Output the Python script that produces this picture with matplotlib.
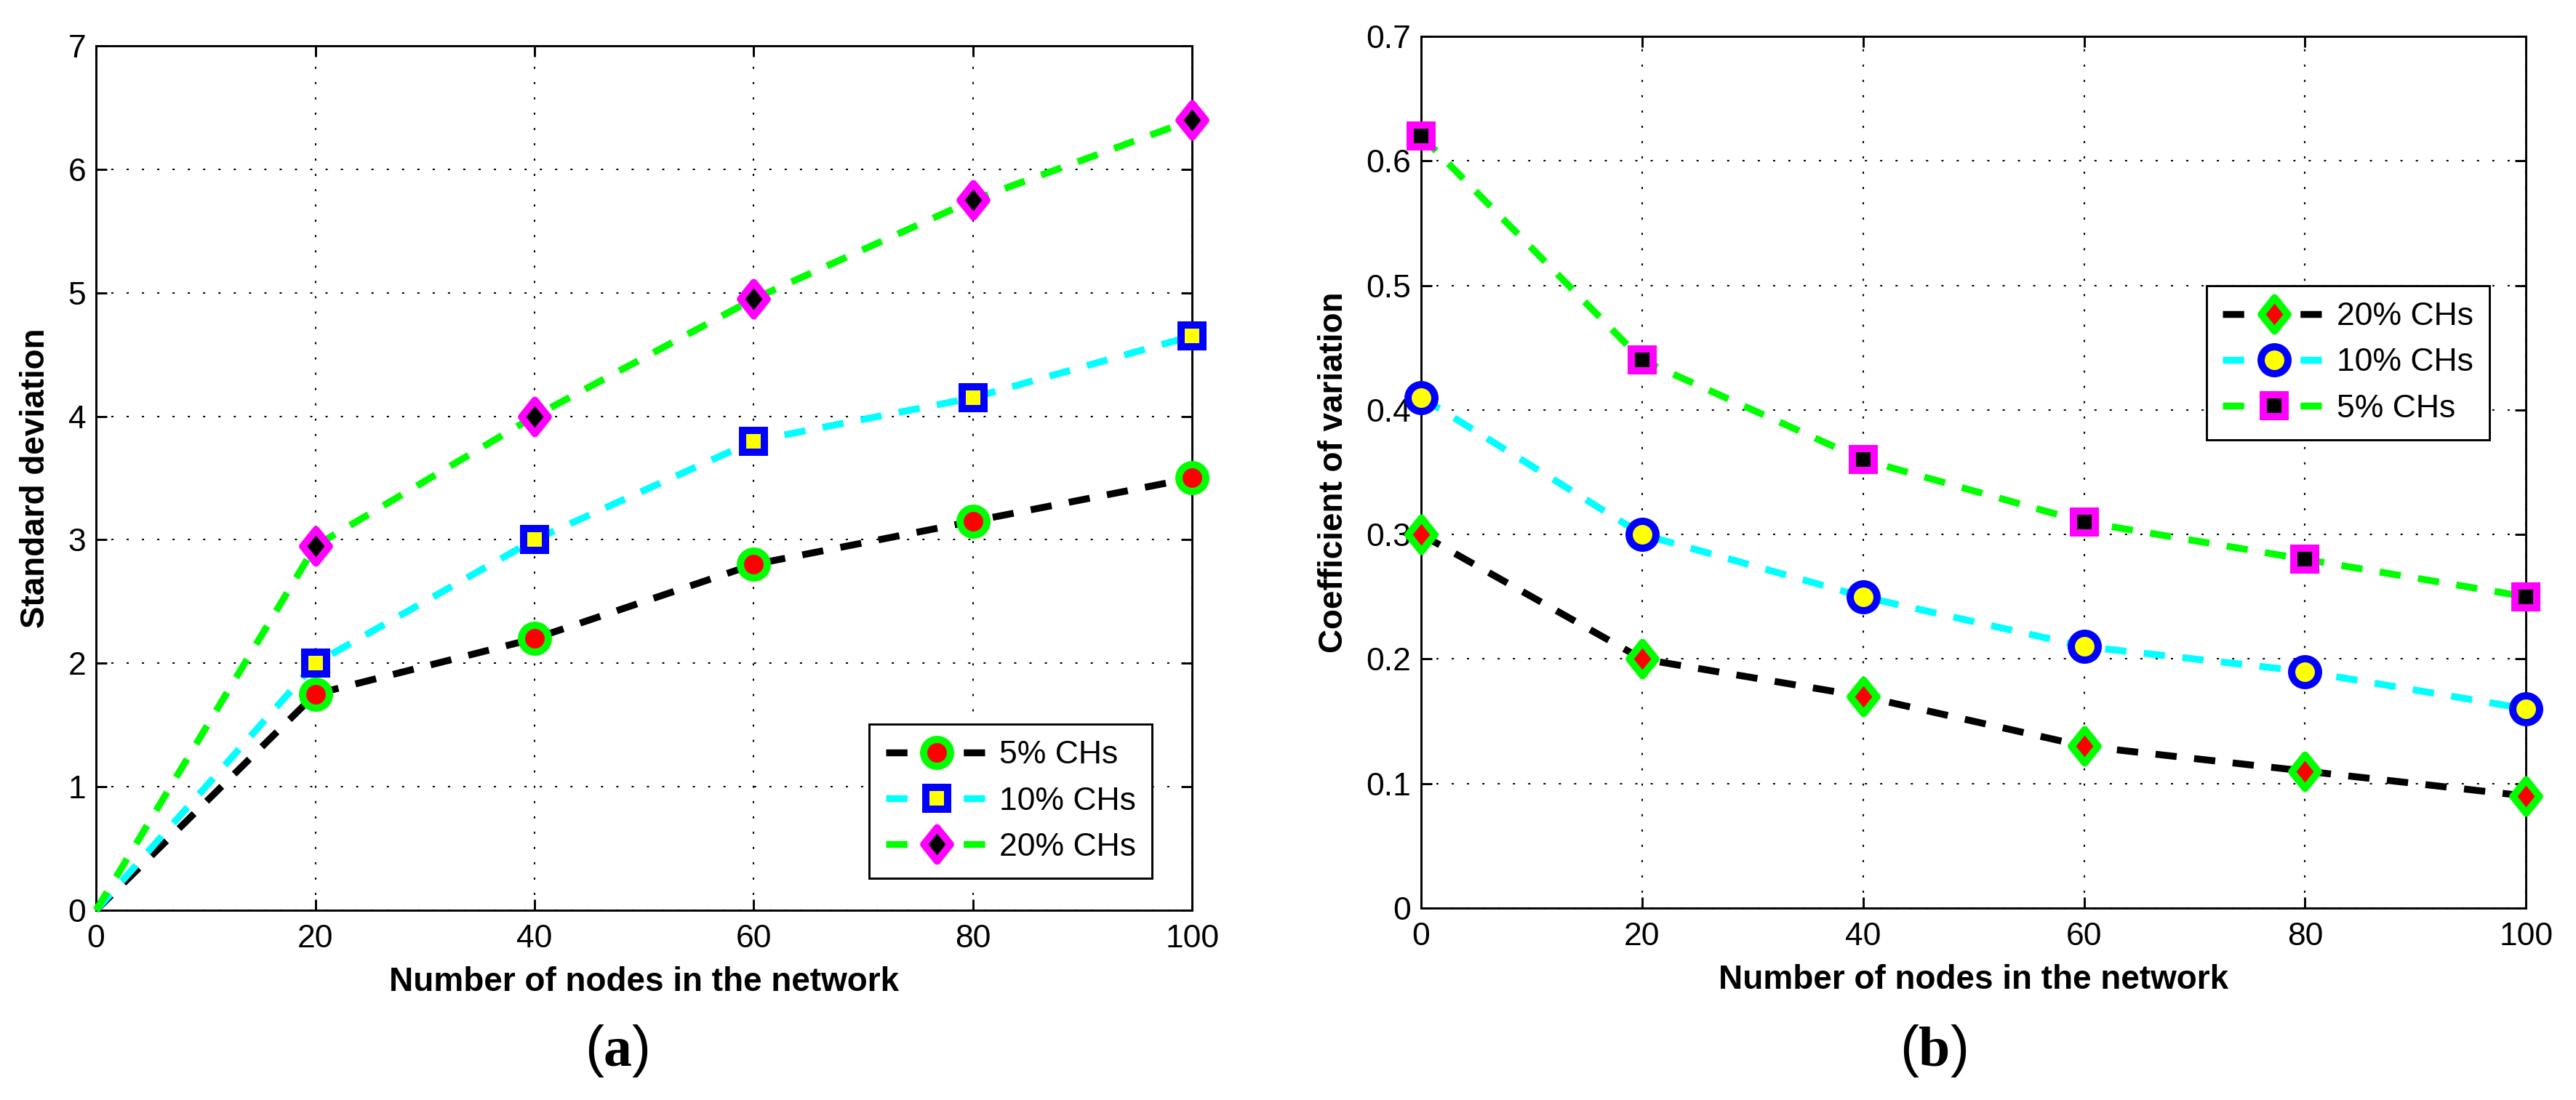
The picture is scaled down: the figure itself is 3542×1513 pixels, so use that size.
import numpy as np
import matplotlib
matplotlib.use("Agg")
import matplotlib.pyplot as plt
from matplotlib.path import Path

# data
nodes = [0, 20, 40, 60, 80, 100]

# (a) standard deviation
std_5 = [0, 1.75, 2.2, 2.8, 3.15, 3.5]
std_10 = [0, 2.0, 3.0, 3.8, 4.15, 4.65]
std_20 = [0, 2.95, 4.0, 4.95, 5.75, 6.4]

# (b) coefficient of variation
cv_20 = [0.30, 0.20, 0.17, 0.13, 0.11, 0.09]
cv_10 = [0.41, 0.30, 0.25, 0.21, 0.19, 0.16]
cv_5 = [0.62, 0.44, 0.36, 0.31, 0.28, 0.25]

xticks = [0, 20, 40, 60, 80, 100]
yticks_a = [0, 1, 2, 3, 4, 5, 6, 7]
yticks_b = [0, 0.1, 0.2, 0.3, 0.4, 0.5, 0.6, 0.7]
yticklabels_b = ["0", "0.1", "0.2", "0.3", "0.4", "0.5", "0.6", "0.7"]

plt.rcParams['font.family'] = ['Liberation Sans', 'DejaVu Sans']
plt.rcParams['mathtext.fontset'] = 'custom'
plt.rcParams['mathtext.rm'] = 'Liberation Serif'
plt.rcParams['mathtext.bf'] = 'Liberation Serif:bold'

G = '#00FF00'
C = '#00FFFF'
M = '#FF00FF'
R = '#FF0000'
B = '#0000FF'
Y = '#FFFF00'
K = '#000000'

# matlab style diamond (taller than wide)
diamond = Path([(0, 1), (0.8, 0), (0, -1), (-0.8, 0), (0, 1)],
               [Path.MOVETO, Path.LINETO, Path.LINETO, Path.LINETO, Path.CLOSEPOLY])

LW = 6.8
DASH = (0, (3.1, 2.55))
MEW = 7.2
MS = {'o': 26.6, 's': 21.6, 'd': 33}


def series(ax, x, y, lc, mk, mec, mfc, label, every=None):
    marker = diamond if mk == 'd' else mk
    ax.plot(x, y, color=lc, lw=LW, linestyle=DASH, marker=marker, ms=MS[mk],
            mec=mec, mfc=mfc, mew=MEW, label=label, clip_on=False, zorder=3,
            markevery=every)


def style(ax, yt, ytl=None):
    ax.set_xlim(0, 100)
    ax.set_xticks(xticks)
    ax.set_ylim(yt[0], yt[-1])
    ax.set_yticks(yt)
    if ytl is not None:
        ax.set_yticklabels(ytl)
    ax.grid(True, color='k', lw=1.5, linestyle=(0, (1.4, 8.7)))
    ax.set_axisbelow(True)
    for s in ax.spines.values():
        s.set_linewidth(2.1)
    ax.tick_params(which='both', direction='in', top=True, right=True,
                   length=10.8, width=2.1, labelsize=32)
    ax.tick_params(axis='x', pad=14)
    ax.tick_params(axis='y', pad=10)
    ax.set_xlabel('Number of nodes in the network', fontsize=33,
                  fontweight='bold', labelpad=12)


def legend(ax, loc, anchor):
    leg = ax.legend(loc=loc, bbox_to_anchor=anchor, fontsize=32,
                    numpoints=1, handlelength=3.17, handletextpad=0.35,
                    borderpad=0.5, labelspacing=0.5, borderaxespad=0,
                    fancybox=False, framealpha=1, edgecolor='k')
    leg.get_frame().set_linewidth(2.1)
    return leg


fig = plt.figure(figsize=(35.42, 15.13), dpi=100)

ax1 = fig.add_axes([0.0373, 0.1725, 0.4255, 0.7859])
series(ax1, nodes, std_5, K, 'o', G, R, '5% CHs', every=[1, 2, 3, 4, 5])
series(ax1, nodes, std_10, C, 's', B, Y, '10% CHs', every=[1, 2, 3, 4, 5])
series(ax1, nodes, std_20, G, 'd', M, K, '20% CHs', every=[1, 2, 3, 4, 5])
style(ax1, yticks_a)
ax1.set_ylabel('Standard deviation', fontsize=33, fontweight='bold', labelpad=16)
legend(ax1, 'lower right', (0.9635, 0.037))

ax2 = fig.add_axes([0.5517, 0.1745, 0.4289, 0.7925])
series(ax2, nodes, cv_20, K, 'd', G, R, '20% CHs')
series(ax2, nodes, cv_10, C, 'o', B, Y, '10% CHs')
series(ax2, nodes, cv_5, G, 's', M, K, '5% CHs')
style(ax2, yticks_b, yticklabels_b)
ax2.set_ylabel('Coefficient of variation', fontsize=33, fontweight='bold', labelpad=16)
legend(ax2, 'upper right', (0.967, 0.714))

fig.text(0.2394, 0.0311, r'($\mathbf{a}$)', fontsize=56, ha='center', va='baseline')
fig.text(0.7504, 0.0311, r'($\mathbf{b}$)', fontsize=56, ha='center', va='baseline')

fig.savefig('out.png', dpi=100, facecolor='white')
